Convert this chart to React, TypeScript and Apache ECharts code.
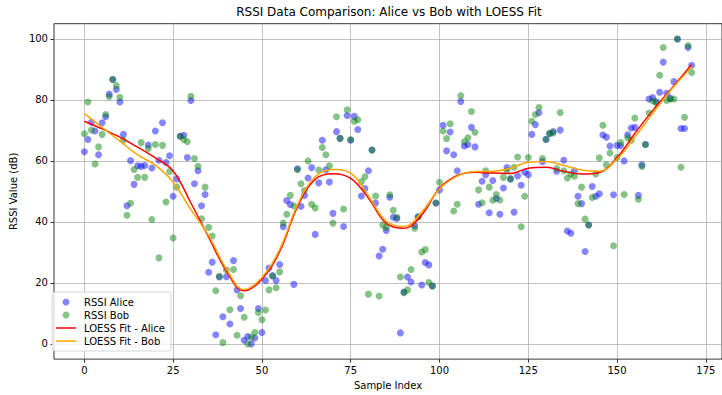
import React, { useEffect, useRef } from "react";
import * as echarts from "echarts";

const rssiAlice: number[] = [
  63.0, 67.0, 72.7, 69.8, 62.0, 72.5, 74.5, 81.9, 86.7, 83.4,
  79.3, 68.7, 45.3, 60.1, 52.3, 58.4, 58.2, 58.5, 65.2, 57.7,
  69.8, 60.2, 72.5, 59.5, 61.7, 48.4, 54.1, 68.1, 68.4, 61.1,
  79.8, 52.5, 56.8, 45.3, 49.0, 23.5, 26.8, 3.0, 21.9, 8.9,
  22.0, 6.5, 27.3, 17.7, 11.6, 1.2, 2.4, 0.0, 1.9, 11.6,
  3.7, 20.8, 24.9, 22.4, 20.8, 26.0, 38.4, 47.0, 45.7, 19.5,
  57.4, 45.1, 48.7, 54.4, 57.8, 35.9, 52.8, 66.8, 57.1, 53.1,
  42.8, 69.6, 67.4, 38.5, 74.9, 66.8, 74.6, 70.3, 48.5, 50.9,
  56.8, 63.6, 46.2, 28.8, 31.0, 37.2, 48.1, 41.5, 41.1, 3.6,
  17.0, 21.9, 20.3, 38.8, 41.7, 19.3, 26.7, 25.9, 19.0, 46.2,
  50.5, 71.7, 63.3, 69.5, 62.0, 56.8, 79.5, 64.9, 65.4, 71.0,
  64.6, 45.8, 53.3, 55.5, 43.0, 53.6, 47.7, 42.5, 51.1, 57.8,
  54.1, 43.2, 55.1, 52.0, 56.3, 55.5, 68.7, 71.9, 75.8, 59.7,
  67.0, 68.9, 69.6, 56.6, 70.1, 60.2, 37.0, 36.3, 56.8, 48.4,
  46.0, 30.3, 39.0, 51.6, 48.4, 49.2, 68.5, 67.8, 64.9, 48.9,
  65.1, 65.0, 60.0, 68.6, 70.8, 71.0, 48.7, 58.7, 65.4, 80.3,
  80.8, 79.5, 82.5, 92.4, 82.2, 80.5, 86.0, 100.0, 70.6, 70.6,
  97.2, 91.4,
];

const rssiBob: number[] = [
  68.9, 79.3, 70.1, 59.0, 64.6, 68.7, 75.2, 81.1, 86.7, 84.7,
  80.9, 66.8, 42.2, 46.1, 57.2, 54.6, 66.0, 54.6, 64.1, 40.8,
  65.4, 28.2, 65.1, 46.5, 56.5, 34.7, 51.4, 68.1, 67.0, 66.3,
  81.2, 60.8, 58.2, 41.0, 51.4, 38.2, 35.4, 17.4, 22.2, 0.4,
  24.2, 11.2, 24.4, 2.8, 15.8, 8.7, 0.0, 2.2, 3.7, 10.3,
  7.9, 11.1, 17.7, 22.2, 18.4, 23.6, 39.6, 42.5, 48.7, 45.2,
  57.1, 52.5, 50.3, 60.0, 45.8, 44.6, 57.0, 64.4, 62.0, 58.4,
  39.6, 74.5, 67.4, 44.2, 76.8, 67.0, 73.0, 73.5, 53.2, 54.8,
  16.3, 63.6, 48.5, 15.7, 39.0, 38.2, 48.9, 43.8, 41.5, 21.9,
  16.8, 17.7, 24.4, 37.9, 41.7, 30.1, 30.9, 20.1, 19.0, 46.2,
  53.0, 69.8, 67.3, 72.2, 43.6, 45.8, 81.4, 66.3, 67.6, 76.2,
  69.4, 50.5, 46.3, 56.8, 51.4, 47.1, 49.0, 47.2, 54.6, 56.8,
  54.1, 57.9, 61.3, 38.4, 48.4, 61.1, 73.0, 75.2, 77.5, 60.8,
  67.1, 69.1, 69.2, 57.5, 75.9, 56.8, 54.4, 55.7, 55.0, 46.0,
  51.4, 40.9, 39.0, 48.0, 55.7, 61.0, 71.7, 58.7, 62.6, 32.2,
  61.1, 66.0, 49.0, 67.6, 66.8, 74.1, 47.4, 58.2, 65.4, 75.7,
  79.7, 79.0, 88.1, 97.2, 79.8, 80.3, 80.3, 100.0, 57.9, 74.3,
  97.8, 89.0,
];

const loessIndex: number[] = [
  0, 5, 10, 15, 20, 25, 30, 35, 40, 45, 50, 55, 60, 65, 70, 75, 80, 85,
  90, 95, 100, 105, 110, 115, 120, 125, 130, 135, 140, 145, 150, 155, 160,
  165, 171,
];
const loessAlice: number[] = [
  73.0, 70.5, 67.8, 64.5, 61.0, 56.7, 46.2, 35.0, 23.9, 17.4, 21.2, 30.3,
  44.9, 54.0, 55.8, 54.3, 47.8, 39.5, 37.9, 42.3, 51.0, 55.2, 56.3, 56.0,
  55.9, 57.6, 57.9, 56.6, 55.7, 56.2, 61.1, 69.0, 76.5, 83.3, 91.6,
];
const loessBob: number[] = [
  75.5, 71.0, 66.5, 62.0, 58.6, 53.0, 44.0, 35.5, 24.5, 17.8, 21.8, 31.0,
  45.5, 54.8, 57.2, 56.0, 48.5, 40.2, 38.5, 43.2, 50.8, 55.0, 56.5, 56.6,
  57.6, 59.6, 59.8, 58.5, 57.0, 56.6, 60.6, 67.8, 75.5, 83.0, 90.8,
];

const xTicks: number[] = [0, 25, 50, 75, 100, 125, 150, 175];
const yTicks: number[] = [0, 20, 40, 60, 80, 100];

const FONT = "DejaVu Sans";

export default function App() {
  const ref = useRef<HTMLDivElement>(null);

  useEffect(() => {
    if (!ref.current) return;
    const chart = echarts.init(ref.current, null, { renderer: "svg" });

    const aliceData = rssiAlice.map((v, i) => [i, v]);
    const bobData = rssiBob.map((v, i) => [i, v]);
    const loessA = loessIndex.map((x, i) => [x, loessAlice[i]]);
    const loessB = loessIndex.map((x, i) => [x, loessBob[i]]);

    const lineIcon = "path://M0,0h40v3h-40z";

    chart.setOption({
      animation: false,
      backgroundColor: "#ffffff",
      textStyle: { fontFamily: FONT },
      grid: {
        left: 47.2,
        right: -8.8,
        top: 23.7,
        bottom: 32.3,
        show: true,
        borderColor: "#000000",
        borderWidth: 0.8,
        backgroundColor: "transparent",
        containLabel: false,
      },
      graphic: [
        {
          type: "text",
          x: 389,
          y: 12,
          style: {
            text: "RSSI Data Comparison: Alice vs Bob with LOESS Fit",
            fill: "#000000",
            font: `12px "${FONT}"`,
            textAlign: "center",
            textVerticalAlign: "middle",
          },
        },
      ],
      xAxis: {
        type: "value",
        min: -8.55,
        max: 179.55,
        name: "Sample Index",
        nameLocation: "middle",
        nameGap: 20,
        nameTextStyle: {
          color: "#000",
          fontSize: 10,
          fontFamily: FONT,
          verticalAlign: "top",
        },
        axisLine: { show: false, onZero: false },
        axisTick: {
          show: true,
          length: 3.5,
          customValues: xTicks,
          lineStyle: { color: "#000", width: 0.8 },
        },
        axisLabel: {
          customValues: xTicks,
          color: "#000",
          fontSize: 10,
          fontFamily: FONT,
          margin: 6,
        },
        splitLine: {
          show: true,
          lineStyle: { color: "#b0b0b0", width: 0.8 },
        },
      },
      yAxis: {
        type: "value",
        min: -5,
        max: 105,
        name: "RSSI Value (dB)",
        nameLocation: "middle",
        nameGap: 29,
        nameRotate: 90,
        nameTextStyle: { color: "#000", fontSize: 10, fontFamily: FONT },
        axisLine: { show: false, onZero: false },
        axisTick: {
          show: true,
          length: 3.5,
          customValues: yTicks,
          lineStyle: { color: "#000", width: 0.8 },
        },
        axisLabel: {
          customValues: yTicks,
          color: "#000",
          fontSize: 10,
          fontFamily: FONT,
          margin: 6,
        },
        splitLine: {
          show: true,
          lineStyle: { color: "#b0b0b0", width: 0.8 },
        },
      },
      legend: {
        orient: "vertical",
        left: 52,
        top: 292,
        padding: [5, 6, 5, 4],
        itemWidth: 20,
        itemHeight: 7,
        itemGap: 3,
        backgroundColor: "rgba(255,255,255,0.8)",
        borderColor: "#cccccc",
        borderWidth: 0.8,
        borderRadius: 3,
        textStyle: {
          color: "#000",
          fontSize: 10,
          fontFamily: FONT,
          padding: [0, 0, 0, 3],
        },
        data: [
          { name: "RSSI Alice", icon: "circle" },
          { name: "RSSI Bob", icon: "circle" },
          { name: "LOESS Fit - Alice", icon: lineIcon },
          { name: "LOESS Fit - Bob", icon: lineIcon },
        ],
      },
      series: [
        {
          name: "RSSI Alice",
          type: "scatter",
          data: aliceData,
          symbolSize: 7,
          itemStyle: { color: "rgba(0,0,255,0.6)" },
          z: 2,
        },
        {
          name: "RSSI Bob",
          type: "scatter",
          data: bobData,
          symbolSize: 7,
          itemStyle: { color: "rgba(0,128,0,0.6)" },
          z: 2,
        },
        {
          name: "LOESS Fit - Alice",
          type: "line",
          data: loessA,
          smooth: 0.4,
          showSymbol: false,
          symbol: "none",
          lineStyle: { color: "#ff0000", width: 1.5 },
          itemStyle: { color: "#ff0000" },
          z: 3,
        },
        {
          name: "LOESS Fit - Bob",
          type: "line",
          data: loessB,
          smooth: 0.4,
          showSymbol: false,
          symbol: "none",
          lineStyle: { color: "#ffa500", width: 1.5 },
          itemStyle: { color: "#ffa500" },
          z: 4,
        },
      ],
    });

    return () => {
      chart.dispose();
    };
  }, []);

  return (
    <div
      ref={ref}
      style={{ position: "fixed", left: 0, top: 0, width: 722, height: 395 }}
    />
  );
}
